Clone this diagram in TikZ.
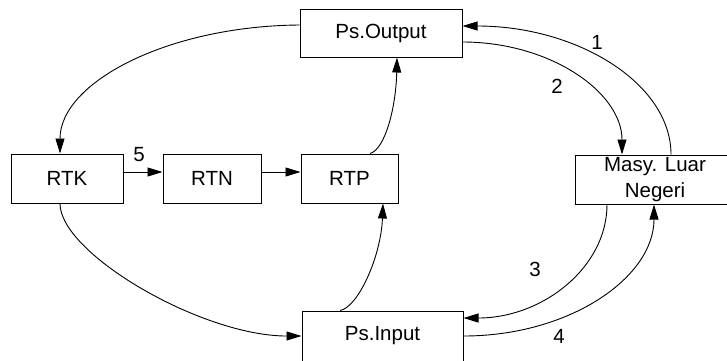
\documentclass[tikz,border=0pt]{standalone}
\usepackage{fontspec}
\setmainfont{Liberation Sans}
\usetikzlibrary{arrows.meta}
\begin{document}
\begin{tikzpicture}[x=1pt,y=-1pt,
  box/.style={draw,line width=1pt,inner sep=0pt,minimum height=49pt,
    font=\fontsize{20.5}{26}\selectfont,align=center},
  lab/.style={inner sep=0pt,font=\fontsize{20.5}{26}\selectfont},
  conn/.style={line width=0.9pt,-{Triangle[length=15pt,width=9pt]}}]
\path[use as bounding box,clip] (0,0) rectangle (727,360);
\fill[white] (0,0) rectangle (727,360);
% boxes
\node[box,minimum width=162pt,minimum height=48pt] (out) at (381,33) {Ps.Output};
\node[box,minimum width=112pt] (rtk) at (67,178.5) {RTK};
\node[box,minimum width=98pt] (rtn) at (212,178.5) {RTN};
\node[box,minimum width=97pt] (rtp) at (349.5,178.5) {RTP};
\node[box,minimum width=160pt] (masy) at (655,179.5) {Masy. Luar\\Negeri};
\node[box,minimum width=161pt,minimum height=50pt] (inp) at (382.5,336) {Ps.Input};
% labels
\node[lab] (l1) at (597,42) {1};
\node[lab] (l2) at (557,86) {2};
\node[lab] (l3) at (535,269) {3};
\node[lab] (l4) at (559,336) {4};
\node[lab] (l5) at (139,155) {5};
% connectors
\draw[conn] ([yshift=8pt]out.west) .. controls +(-132,1) and +(0,-71) .. ([xshift=-7pt]rtk.north);
\draw[conn] ([xshift=-7pt]rtk.south) .. controls +(0,50) and +(-100,0) .. (inp.west);
\draw[conn] ([xshift=-42.5pt]inp.north) .. controls +(18,-3) and +(-2,53) .. ([xshift=33.5pt]rtp.south);
\draw[conn] ([xshift=20.5pt]rtp.north) .. controls +(15,-4) and +(-1,50) .. ([xshift=16pt]out.south);
\draw[conn] ([yshift=-9pt]out.east) .. controls +(88,0) and +(0,-62) .. ([xshift=-33pt]masy.north);
\draw[conn] ([xshift=16pt]masy.north) .. controls +(0,-71) and +(115,0) .. ([yshift=7pt]out.east);
\draw[conn] ([xshift=-48pt]masy.south) .. controls +(0,63) and +(79,0) .. ([yshift=18pt]inp.east);
\draw[conn] (inp.east) .. controls +(106,0) and +(0,73) .. ([xshift=-1pt]masy.south);
\draw[conn] ([yshift=6.5pt]rtk.east) -- ([yshift=6.5pt]rtn.west);
\draw[conn] ([yshift=6.5pt]rtn.east) -- ([yshift=6.5pt]rtp.west);
\end{tikzpicture}
\end{document}
